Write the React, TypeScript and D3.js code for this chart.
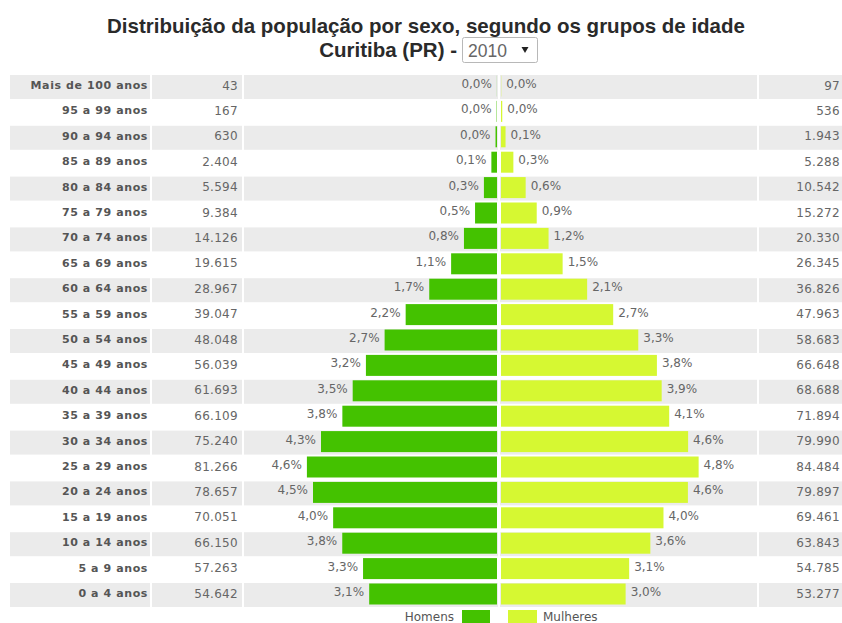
import React from "react";
import * as d3 from "d3";

const ageGroups = [
  "Mais de 100 anos", "95 a 99 anos", "90 a 94 anos", "85 a 89 anos", "80 a 84 anos",
  "75 a 79 anos", "70 a 74 anos", "65 a 69 anos", "60 a 64 anos", "55 a 59 anos",
  "50 a 54 anos", "45 a 49 anos", "40 a 44 anos", "35 a 39 anos", "30 a 34 anos",
  "25 a 29 anos", "20 a 24 anos", "15 a 19 anos", "10 a 14 anos", "5 a 9 anos", "0 a 4 anos",
];
const men = [
  43, 167, 630, 2404, 5594, 9384, 14126, 19615, 28967, 39047, 48048,
  56039, 61693, 66109, 75240, 81266, 78657, 70051, 66150, 57263, 54642,
];
const women = [
  97, 536, 1943, 5288, 10542, 15272, 20330, 26345, 36826, 47963, 58683,
  66648, 68688, 71894, 79990, 84484, 79897, 69461, 63843, 54785, 53277,
];
const legendLabels = ["Homens", "Mulheres"];
const titleLine1 = "Distribuição da população por sexo, segundo os grupos de idade";
const titleLine2 = "Curitiba (PR) -";
const yearLabel = "2010";

const W = 842;
const H = 623;
const CENTER = 499;
const MALE_COLOR = "#44c200";
const FEMALE_COLOR = "#d6f832";
const BAND_COLOR = "#ebebeb";
const FONT = "'DejaVu Sans', Verdana, sans-serif";
const TITLE_FONT = "'Liberation Sans', Arial, sans-serif";

export default function App() {
  const total = d3.sum(men) + d3.sum(women);
  const pct = (v: number) => (v / total) * 100;
  const fmtPct = (v: number) => pct(v).toFixed(1).replace(".", ",") + "%";
  const fmtNum = (v: number) => d3.format(",")(v).replace(/,/g, ".");

  const y = d3.scaleBand<string>().domain(ageGroups).range([75, 75 + 21 * 25.4]);
  const w = d3.scaleLinear().domain([0, 6.32]).range([0, 259]);

  return (
    <svg
      width={W}
      height={H}
      style={{ position: "absolute", left: 0, top: 0, background: "#fff" }}
    >
      <rect x={0} y={0} width={W} height={H} fill="#fff" />
      <text
        x={426}
        y={33}
        textAnchor="middle"
        fontFamily={TITLE_FONT}
        fontWeight="bold"
        fontSize={20.5}
        fill="#2a2a2a"
      >
        {titleLine1}
      </text>
      <text
        x={457}
        y={57}
        textAnchor="end"
        fontFamily={TITLE_FONT}
        fontWeight="bold"
        fontSize={20.5}
        fill="#2a2a2a"
      >
        {titleLine2}
      </text>
      <rect x={462.5} y={37.5} width={75} height={25} rx={2} fill="#fff" stroke="#b8b8b8" />
      <text
        x={468}
        y={57}
        fontFamily={TITLE_FONT}
        fontSize={18}
        fill="#666"
        textLength={39}
        lengthAdjust="spacingAndGlyphs"
      >
        {yearLabel}
      </text>
      <path d="M521.5,47 L528.5,47 L525,53 Z" fill="#222" />

      {ageGroups.map((g, i) => {
        const top = y(g)!;
        const cy = top + 10.5;
        const mw = w(pct(men[i]));
        const fw = w(pct(women[i]));
        const gray = i % 2 === 0;
        return (
          <g key={g}>
            {gray && (
              <g fill={BAND_COLOR}>
                <rect x={10} y={top} width={140} height={24} />
                <rect x={152} y={top} width={90} height={24} />
                <rect x={244} y={top} width={513} height={24} />
                <rect x={759} y={top} width={W - 759} height={24} />
              </g>
            )}
            <rect x={CENTER - 2 - mw} y={top + 0.5} width={mw} height={21} fill={MALE_COLOR} />
            <rect x={CENTER + 2} y={top + 0.5} width={fw} height={21} fill={FEMALE_COLOR} />
            <text
              x={148}
              y={cy}
              dominantBaseline="central"
              textAnchor="end"
              fontFamily={FONT}
              fontWeight="bold"
              fontSize={11}
              letterSpacing={0.6}
              fill="#555"
            >
              {g}
            </text>
            <text
              x={238}
              y={cy}
              dominantBaseline="central"
              textAnchor="end"
              fontFamily={FONT}
              fontSize={12}
              letterSpacing={0.3}
              fill="#666"
            >
              {fmtNum(men[i])}
            </text>
            <text
              x={840}
              y={cy}
              dominantBaseline="central"
              textAnchor="end"
              fontFamily={FONT}
              fontSize={12}
              letterSpacing={0.3}
              fill="#666"
            >
              {fmtNum(women[i])}
            </text>
            <text
              x={CENTER - 2 - mw - 5}
              y={cy - 1.5}
              dominantBaseline="central"
              textAnchor="end"
              fontFamily={FONT}
              fontSize={12}
              fill="#666"
            >
              {fmtPct(men[i])}
            </text>
            <text
              x={CENTER + 2 + fw + 5}
              y={cy - 1.5}
              dominantBaseline="central"
              textAnchor="start"
              fontFamily={FONT}
              fontSize={12}
              fill="#666"
            >
              {fmtPct(women[i])}
            </text>
          </g>
        );
      })}
      <rect x={CENTER - 1} y={75} width={2} height={21 * 25.4} fill="#fff" />

      <text
        x={454}
        y={617}
        dominantBaseline="central"
        textAnchor="end"
        fontFamily={FONT}
        fontSize={12}
        fill="#555"
      >
        {legendLabels[0]}
      </text>
      <rect x={462} y={610} width={28} height={16} fill={MALE_COLOR} />
      <rect x={508} y={610} width={29} height={16} fill={FEMALE_COLOR} />
      <text
        x={543}
        y={617}
        dominantBaseline="central"
        textAnchor="start"
        fontFamily={FONT}
        fontSize={12}
        fill="#555"
      >
        {legendLabels[1]}
      </text>
    </svg>
  );
}
